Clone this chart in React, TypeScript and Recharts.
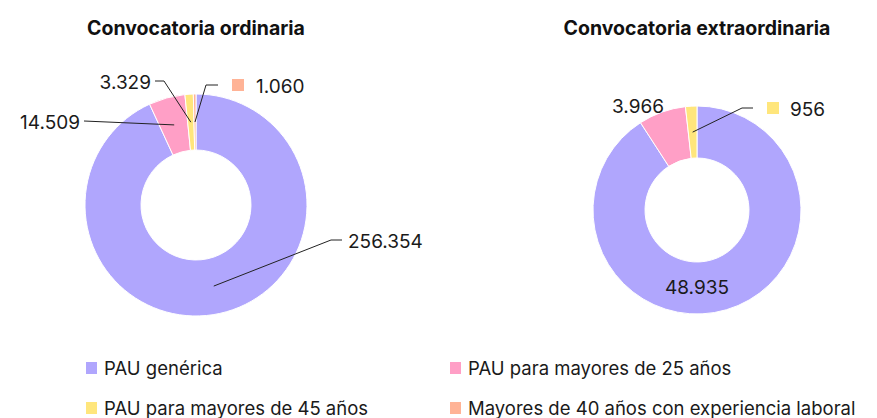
import { PieChart, Pie, Cell, Legend } from 'recharts'

const CATEGORIES = [
  'PAU genérica',
  'PAU para mayores de 25 años',
  'PAU para mayores de 45 años',
  'Mayores de 40 años con experiencia laboral',
]
const ORDINARIA = [256354, 14509, 3329, 1060]
const EXTRAORDINARIA = [48935, 3966, 956, 0]
const TITLES = ['Convocatoria ordinaria', 'Convocatoria extraordinaria']

const COLORS = ['#b0a6fd', '#ff9fc6', '#ffe67c', '#ffb396']
const FONT = 'Inter, "Noto Sans", sans-serif'
const RAD = Math.PI / 180

// label placement per slice, offsets from the pie centre
type Place = {
  line?: boolean
  elbow?: [number, number]
  end?: [number, number]
  text: [number, number]
  anchor: 'start' | 'middle' | 'end'
  swatch?: number
}

const LEFT_PLACES: Place[] = [
  { line: true, elbow: [135, 35], end: [146, 35], text: [152, 36], anchor: 'start' },
  { line: true, end: [-112, -84], text: [-116, -83], anchor: 'end' },
  { line: true, elbow: [-32, -124], end: [-41, -124], text: [-45, -123], anchor: 'end' },
  { line: true, elbow: [10, -120], end: [22, -120], text: [60, -119], anchor: 'start', swatch: 36 },
]

const RIGHT_PLACES: Place[] = [
  { text: [0, 77], anchor: 'middle' },
  { text: [-59, -104], anchor: 'middle' },
  { line: true, elbow: [45, -102], end: [56, -102], text: [93, -101], anchor: 'start', swatch: 70 },
  { text: [0, 0], anchor: 'middle' },
]

const fmt = (v: number) => v.toLocaleString('de-DE')

const makeLabel = (places: Place[]) => (props: any) => {
  const { cx, cy, midAngle, innerRadius, outerRadius, index, value } = props
  if (!value) return null
  const p = places[index]
  const r = (innerRadius + outerRadius) / 2
  const ax = cx + r * Math.cos(-midAngle * RAD)
  const ay = cy + r * Math.sin(-midAngle * RAD)
  const pts: string[] = [`${ax},${ay}`]
  if (p.elbow) pts.push(`${cx + p.elbow[0]},${cy + p.elbow[1]}`)
  if (p.end) pts.push(`${cx + p.end[0]},${cy + p.end[1]}`)
  return (
    <g>
      {p.line && <polyline points={pts.join(' ')} fill="none" stroke="#222" strokeWidth={1} />}
      {p.swatch !== undefined && (
        <rect x={cx + p.swatch} y={cy + p.text[1] - 7} width={12} height={12} fill={COLORS[index]} />
      )}
      <text
        x={cx + p.text[0]}
        y={cy + p.text[1]}
        textAnchor={p.anchor}
        dominantBaseline="central"
        fill="#1a1a1a"
        fontSize={19}
        fontFamily={FONT}
      >
        {fmt(value)}
      </text>
    </g>
  )
}

const renderLegend = () => (
  <div
    style={{
      display: 'grid',
      gridTemplateColumns: '364px 420px',
      rowGap: 16,
      paddingLeft: 86,
      fontFamily: FONT,
      fontSize: 18.5,
      color: '#1a1a1a',
    }}
  >
    {CATEGORIES.map((c, i) => (
      <div key={c} style={{ display: 'flex', alignItems: 'center', height: 24 }}>
        <span style={{ width: 11, height: 12, background: COLORS[i], marginRight: 7 }} />
        {c}
      </div>
    ))}
  </div>
)

export default function App() {
  const left = CATEGORIES.map((name, i) => ({ name, value: ORDINARIA[i] }))
  const right = CATEGORIES.map((name, i) => ({ name, value: EXTRAORDINARIA[i] }))

  return (
    <div style={{ position: 'relative', width: 877, height: 418, overflow: 'hidden', background: '#fff' }}>
      <style>{'body{margin:0}'}</style>
      {TITLES.map((t, i) => (
        <div
          key={t}
          style={{
            position: 'absolute',
            top: 16,
            left: i === 0 ? 196 - 200 : 697 - 200,
            width: 400,
            textAlign: 'center',
            fontFamily: FONT,
            fontWeight: 700,
            fontSize: 19.5,
            color: '#111',
          }}
        >
          {t}
        </div>
      ))}
      <PieChart width={877} height={418} margin={{ top: 0, right: 0, bottom: 0, left: 0 }}>
        <Pie
          data={left}
          dataKey="value"
          cx={196}
          cy={205}
          innerRadius={55}
          outerRadius={111}
          startAngle={90}
          endAngle={-270}
          stroke="#fff"
          strokeWidth={1}
          label={makeLabel(LEFT_PLACES)}
          labelLine={false}
          isAnimationActive={false}
        >
          {left.map((d, i) => (
            <Cell key={d.name} fill={COLORS[i]} />
          ))}
        </Pie>
        <Pie
          data={right}
          dataKey="value"
          cx={697}
          cy={210}
          innerRadius={52}
          outerRadius={104}
          startAngle={90}
          endAngle={-270}
          stroke="#fff"
          strokeWidth={1}
          label={makeLabel(RIGHT_PLACES)}
          labelLine={false}
          isAnimationActive={false}
        >
          {right.map((d, i) => (
            <Cell key={d.name} fill={COLORS[i]} />
          ))}
        </Pie>
        <Legend
          content={renderLegend}
          verticalAlign="bottom"
          wrapperStyle={{ top: 356, bottom: 'auto', left: 0, width: 877 }}
        />
      </PieChart>
    </div>
  )
}
